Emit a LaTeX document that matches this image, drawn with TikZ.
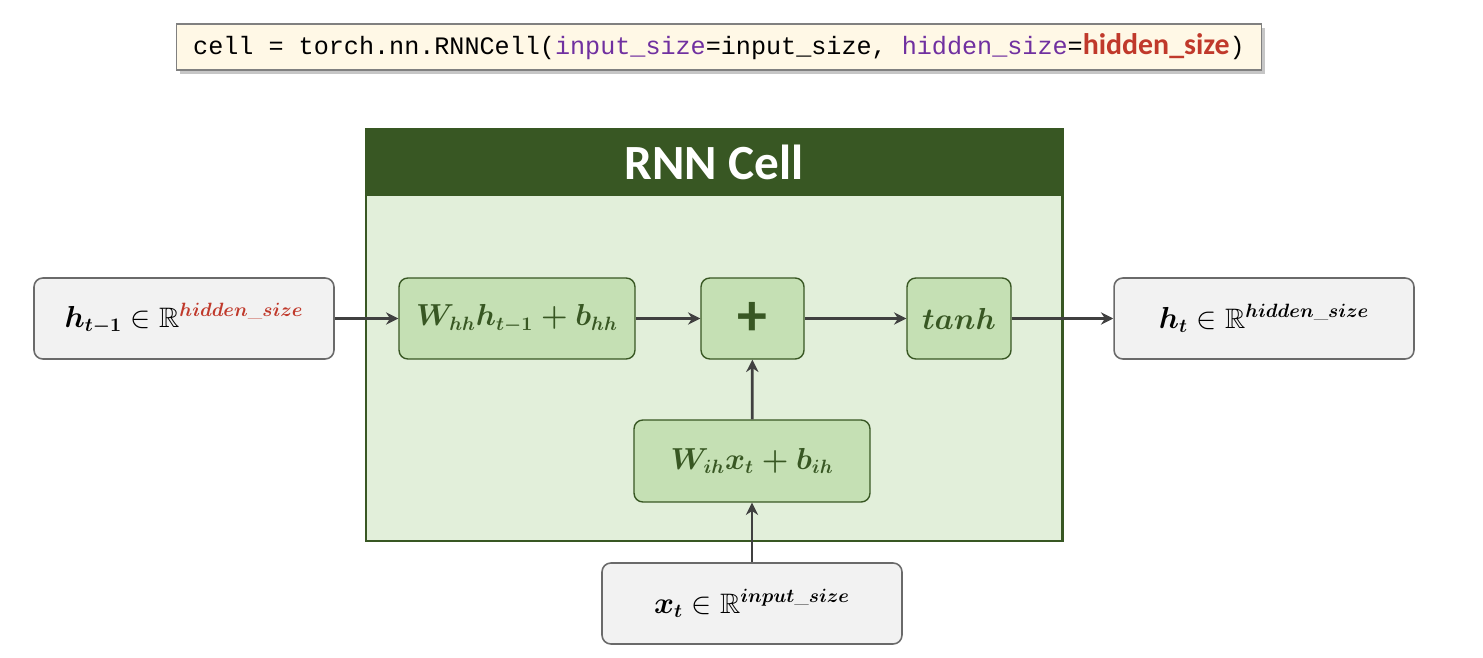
\documentclass[tikz,border=0pt]{standalone}
\usepackage{fontspec}
\usepackage{amsmath}
\usepackage{amssymb}
\usepackage{tikz}
\usetikzlibrary{arrows.meta, shadows}
\newfontfamily\codefont{Liberation Mono}
\newfontfamily\headfont{Carlito}
\definecolor{cellgreen}{HTML}{385723}
\definecolor{cellbg}{HTML}{E2EFDA}
\definecolor{opfill}{HTML}{C5E0B4}
\definecolor{iofill}{HTML}{F2F2F2}
\definecolor{ioline}{HTML}{6A6A6A}
\definecolor{arrowgray}{HTML}{404040}
\definecolor{codefill}{HTML}{FFF8E6}
\definecolor{codepurple}{HTML}{7030A0}
\definecolor{codered}{HTML}{C0392B}
\begin{document}
\begin{tikzpicture}[
    x=0.02cm, y=-0.02cm,
    io/.style={rectangle, rounded corners=5pt, draw=ioline, fill=iofill, line width=0.9pt, minimum width=6cm, minimum height=1.62cm, font=\fontsize{16}{19}\selectfont},
    op/.style={rectangle, rounded corners=5pt, draw=cellgreen, fill=opfill, line width=0.8pt, minimum height=1.62cm, text=cellgreen, font=\fontsize{16}{19}\selectfont},
    arrow/.style={-{Stealth[length=7pt, width=7pt]}, line width=1.6pt, draw=arrowgray},
    codebox/.style={rectangle, draw=gray, fill=codefill, line width=0.6pt, minimum width=21.72cm, minimum height=0.92cm, drop shadow={opacity=0.45, shadow xshift=2pt, shadow yshift=-2pt}}
]
\useasboundingbox (0,0) rectangle (1483,658);

% code line on top
\node[codebox] (code) at (719,47) {\codefont\fontsize{14.3}{16}\selectfont cell = torch.nn.RNNCell(\textcolor{codepurple}{input\_size}=input\_size, \textcolor{codepurple}{hidden\_size}=\textcolor{codered}{\headfont\bfseries\fontsize{17}{18}\selectfont hidden\_size})};

% the cell
\fill[cellbg] (366,129) rectangle (1062,541);
\fill[cellgreen] (366,129) rectangle (1062,196);
\draw[cellgreen, line width=1.7pt] (366,129) rectangle (1062,541);
\node[text=white, font=\headfont\bfseries\fontsize{28}{30}\selectfont] (title) at (714,162) {RNN Cell};

\node[op, minimum width=4.72cm] (whh) at (517,318.5) {$\boldsymbol{W_{hh}h_{t-1}+b_{hh}}$};
\node[op, minimum width=2.06cm, font=\headfont\bfseries\fontsize{34}{34}\selectfont] (plus) at (752.5,318.5) {+};
\node[op, minimum width=2.08cm] (tanh) at (959,318.5) {$\boldsymbol{tanh}$};
\node[op, minimum width=4.72cm, minimum height=1.64cm] (wih) at (752,461) {$\boldsymbol{W_{ih}x_{t}+b_{ih}}$};

% inputs and output
\node[io] (hprev) at (184,318.5) {$\boldsymbol{h_{t-1}}\in\mathbb{R}^{\textcolor{codered}{\boldsymbol{hidden\_size}}}$};
\node[io] (hnext) at (1264,318.5) {$\boldsymbol{h_{t}}\in\mathbb{R}^{\boldsymbol{hidden\_size}}$};
\node[io] (xt) at (752,603.5) {$\boldsymbol{x_{t}}\in\mathbb{R}^{\boldsymbol{input\_size}}$};

\draw[arrow] (hprev) -- (whh);
\draw[arrow] (whh) -- (plus);
\draw[arrow] (plus) -- (tanh);
\draw[arrow] (tanh) -- (hnext);
\draw[arrow] (wih) -- (plus);
\draw[arrow] (xt) -- (wih);

\end{tikzpicture}
\end{document}
